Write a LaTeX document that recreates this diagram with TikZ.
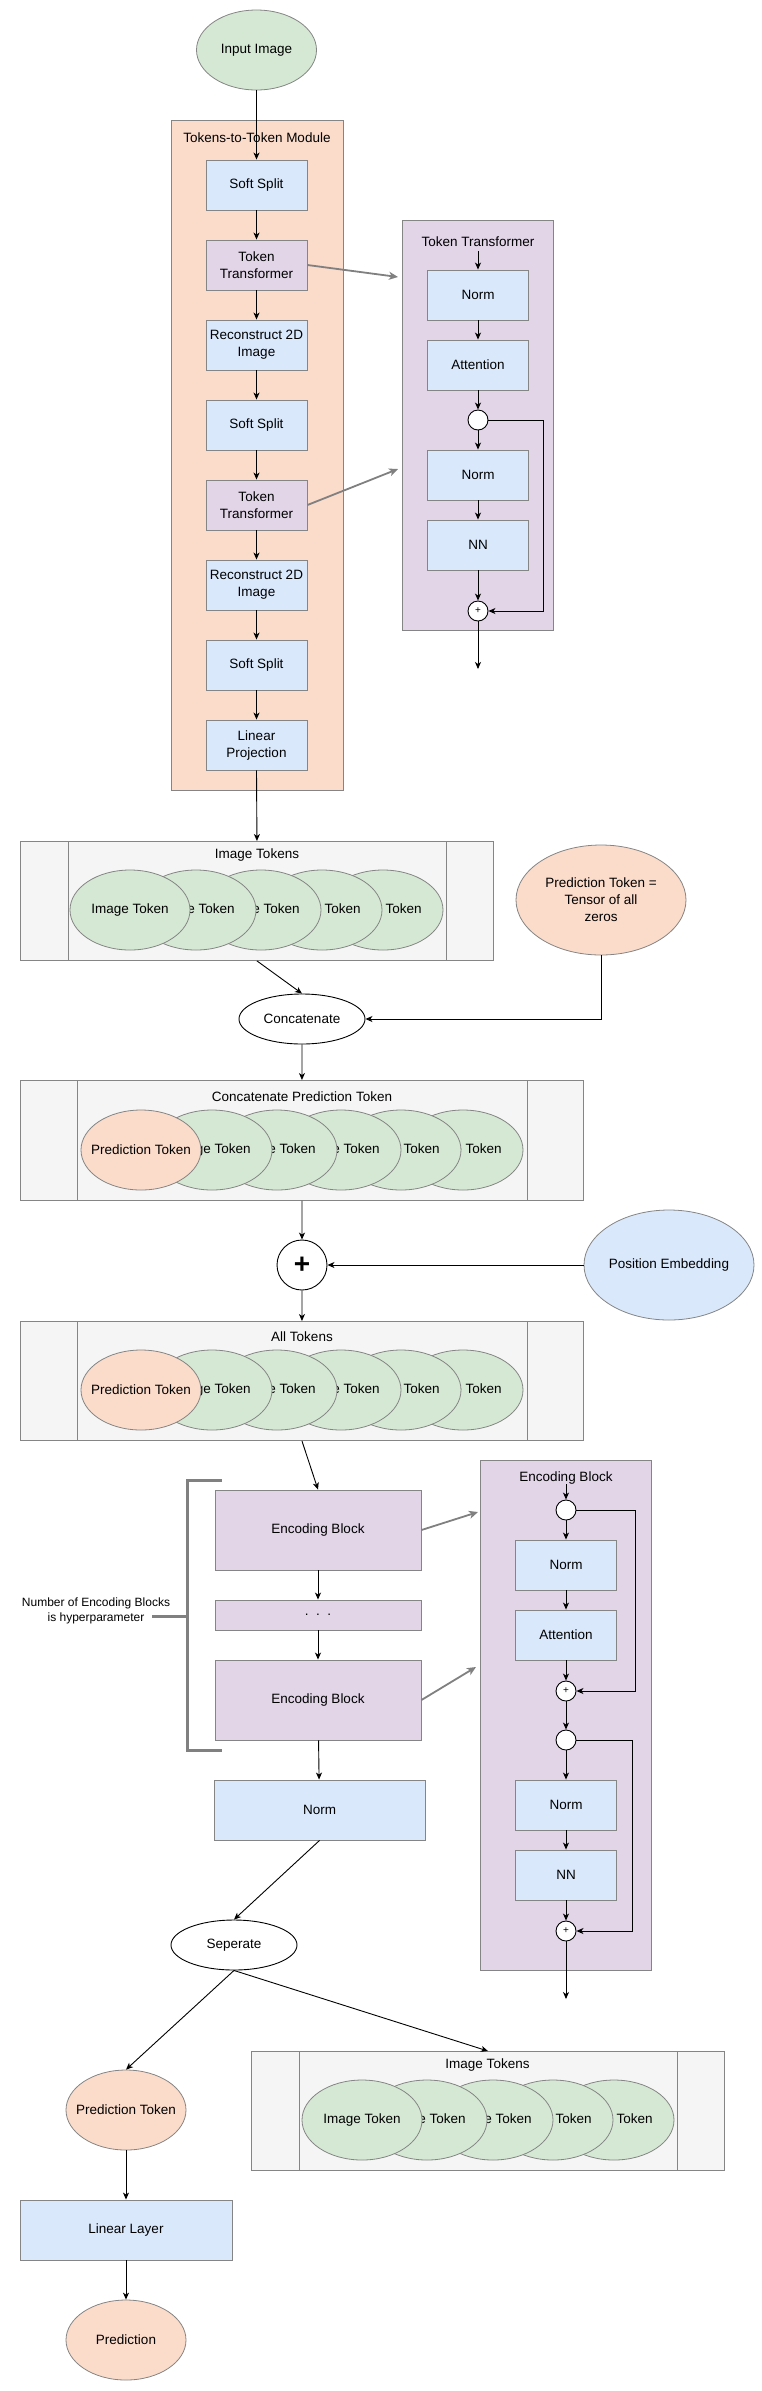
\documentclass[tikz,border=0pt]{standalone}
\usepackage{fontspec}
\setmainfont{Liberation Sans}
\usetikzlibrary{shapes.geometric,arrows.meta,calc}
\definecolor{peachF}{HTML}{FBDBCA}
\definecolor{greenF}{HTML}{D5E8D4}
\definecolor{blueF}{HTML}{DAE8FC}
\definecolor{purpF}{HTML}{E1D5E7}
\definecolor{grayF}{HTML}{F5F5F5}
\definecolor{strokeG}{HTML}{858585}
\definecolor{arrowG}{HTML}{808080}
\newcommand\dgfont{\fontsize{13.5}{17}\selectfont}
\newcommand\smfont{\fontsize{12}{15}\selectfont}
\begin{document}
\begin{tikzpicture}[x=1pt,y=-1pt,
  arr/.style={-{Stealth[length=7pt,width=6pt,inset=2pt]}, line width=0.9pt, draw=black},
  garr/.style={-{Stealth[length=9pt,width=8pt,inset=2.5pt]}, line width=1.8pt, draw=arrowG},
  bx/.style={rectangle, draw=strokeG, line width=0.9pt, align=center, inner sep=1pt, font=\dgfont},
  bbox/.style={bx, fill=blueF, minimum width=101pt, minimum height=50pt},
  pbox/.style={bx, fill=purpF, minimum width=101pt, minimum height=50pt},
  tok/.style={ellipse, draw=strokeG, line width=0.8pt, fill=greenF, minimum width=120pt, minimum height=80pt, inner xsep=-20pt, inner ysep=0pt, font=\dgfont},
  ptok/.style={tok, fill=peachF},
  wel/.style={ellipse, draw=black, line width=0.9pt, fill=white, minimum width=126pt, minimum height=50pt, inner sep=0pt, font=\dgfont},
  circ/.style={circle, draw=black, fill=white, line width=0.9pt, minimum size=20pt, inner sep=0pt, font=\fontsize{10}{10}\selectfont},
  cont/.style={rectangle, draw=strokeG, line width=0.9pt, anchor=north west, inner sep=0pt},
  ttl/.style={font=\dgfont, inner sep=0pt},
  brk/.style={draw=arrowG, line width=3pt}
]
\useasboundingbox (0,0) rectangle (761,2391);

% ---------------- Tokens-to-Token module ----------------
\node[tok] (inImg) at (256.5,50) {Input Image};
\node[cont, fill=peachF, minimum width=172pt, minimum height=670pt] (t2t) at (171,120) {};
\node[ttl] (t2tT) at (257,138) {Tokens-to-Token Module};
\node[bbox] (ss1) at (256.5,185) {Soft Split};
\node[pbox] (tt1) at (256.5,265) {Token\\Transformer};
\node[bbox] (rc1) at (256.5,345) {Reconstruct 2D\\Image};
\node[bbox] (ss2) at (256.5,425) {Soft Split};
\node[pbox] (tt2) at (256.5,505) {Token\\Transformer};
\node[bbox] (rc2) at (256.5,585) {Reconstruct 2D\\Image};
\node[bbox] (ss3) at (256.5,665) {Soft Split};
\node[bbox] (lp) at (256.5,745) {Linear\\Projection};
\draw[arr] (inImg.south) -- (ss1.north);
\draw[arr] (ss1) -- (tt1);
\draw[arr] (tt1) -- (rc1);
\draw[arr] (rc1) -- (ss2);
\draw[arr] (ss2) -- (tt2);
\draw[arr] (tt2) -- (rc2);
\draw[arr] (rc2) -- (ss3);
\draw[arr] (ss3) -- (lp);

% ---------------- Token Transformer detail ----------------
\node[cont, fill=purpF, minimum width=151pt, minimum height=410pt] (ttC) at (402,220) {};
\node[ttl] (ttT) at (478,242) {Token Transformer};
\coordinate (ttIn) at (478,251);
\node[bbox] (ttN1) at (478,295) {Norm};
\node[bbox] (ttA) at (478,365) {Attention};
\node[circ] (ttC1) at (478,420) {};
\node[bbox] (ttN2) at (478,475) {Norm};
\node[bbox] (ttNN) at (478,545) {NN};
\node[circ] (ttP) at (478,611) {+};
\coordinate (ttOut) at (478,669);
\draw[arr] (ttIn) -- (ttN1.north);
\draw[arr] (ttN1) -- (ttA);
\draw[arr] (ttA) -- (ttC1);
\draw[arr] (ttC1) -- (ttN2);
\draw[arr] (ttN2) -- (ttNN);
\draw[arr] (ttNN) -- (ttP);
\draw[arr] (ttP) -- (ttOut);
\draw[arr] (ttC1.east) -- ++(55,0) |- (ttP.east);
\coordinate (g1) at (398,277);
\coordinate (g2) at (398,469);
\draw[garr] (tt1.east) -- (g1);
\draw[garr] (tt2.east) -- (g2);

% ---------------- Image tokens ----------------
\node[cont, fill=grayF, minimum width=473pt, minimum height=119pt] (imgA) at (20,841) {};
\draw[strokeG, line width=0.9pt] ([xshift=48pt]imgA.north west) -- ([xshift=48pt]imgA.south west);
\draw[strokeG, line width=0.9pt] ([xshift=-47pt]imgA.north east) -- ([xshift=-47pt]imgA.south east);
\node[ttl] (imgAT) at (257,855) {Image Tokens};
\foreach \x [count=\i] in {383,322,261,196,130} \node[tok] (ia\i) at (\x,910) {Image Token};
\draw[arr] (lp.south) -- (imgA.north);

\node[ptok, inner sep=0pt, minimum width=170pt, minimum height=110pt, align=center] (predT) at (601,900) {Prediction Token =\\Tensor of all\\zeros};
\node[wel] (concat) at (302,1019) {Concatenate};
\draw[arr] (imgA.south) -- (concat.north);
\draw[arr] (predT.south) |- (concat.east);

% ---------------- Concatenate prediction token ----------------
\node[cont, fill=grayF, minimum width=563pt, minimum height=120pt] (catC) at (20,1080) {};
\draw[strokeG, line width=0.9pt] ([xshift=57pt]catC.north west) -- ([xshift=57pt]catC.south west);
\draw[strokeG, line width=0.9pt] ([xshift=-56pt]catC.north east) -- ([xshift=-56pt]catC.south east);
\node[ttl] (catCT) at (302,1097) {Concatenate Prediction Token};
\foreach \x [count=\i] in {463,401,341,277,212} \node[tok] (ca\i) at (\x,1150) {Image Token};
\node[ptok] (ca0) at (141,1150) {Prediction Token};
\draw[arr] (concat.south) -- (catC.north);

% ---------------- Position embedding ----------------
\node[circle, draw=black, fill=white, line width=0.9pt, minimum size=50pt, inner sep=0pt, font=\fontsize{28}{28}\selectfont\bfseries] (plus) at (302,1265) {+};
\node[tok, fill=blueF, minimum width=170pt, minimum height=110pt] (posE) at (669,1265) {Position Embedding};
\draw[arr] (catC.south) -- (plus.north);
\draw[arr] (posE.west) -- (plus.east);

% ---------------- All tokens ----------------
\node[cont, fill=grayF, minimum width=563pt, minimum height=119pt] (allC) at (20,1321) {};
\draw[strokeG, line width=0.9pt] ([xshift=57pt]allC.north west) -- ([xshift=57pt]allC.south west);
\draw[strokeG, line width=0.9pt] ([xshift=-56pt]allC.north east) -- ([xshift=-56pt]allC.south east);
\node[ttl] (allCT) at (302,1337) {All Tokens};
\foreach \x [count=\i] in {463,401,341,277,212} \node[tok] (aa\i) at (\x,1390) {Image Token};
\node[ptok] (aa0) at (141,1390) {Prediction Token};
\draw[arr] (plus.south) -- (allC.north);

% ---------------- Encoding blocks ----------------
\node[bx, fill=purpF, minimum width=206pt, minimum height=80pt] (eb1) at (318,1530) {Encoding Block};
\node[bx, fill=purpF, minimum width=206pt, minimum height=30pt] (dots) at (318,1615) {.\ \ .\ \ .};
\node[bx, fill=purpF, minimum width=206pt, minimum height=80pt] (eb2) at (318,1700) {Encoding Block};
\node[bx, fill=blueF, minimum width=211pt, minimum height=60pt] (norm) at (319.5,1810) {Norm};
\draw[arr] (allC.south) -- (eb1.north);
\draw[arr] (eb1) -- (dots);
\draw[arr] (dots) -- (eb2);
\draw[arr] (eb2) -- (norm);

\draw[brk] (222,1480) -- (187,1480) -- (187,1750) -- (222,1750);
\draw[brk] (152,1616) -- (187,1616);
\node[font=\smfont, align=center, inner sep=0pt] (nblk) at (96,1611) {Number of Encoding Blocks\\is hyperparameter};

% ---------------- Encoding Block detail ----------------
\node[cont, fill=purpF, minimum width=171pt, minimum height=510pt] (ebC) at (480,1460) {};
\node[ttl] (ebT) at (566,1478) {Encoding Block};
\coordinate (ebIn) at (566,1484);
\node[circ] (ebC1) at (566,1510) {};
\node[bbox] (ebN1) at (566,1565) {Norm};
\node[bbox] (ebA) at (566,1635) {Attention};
\node[circ] (ebP1) at (566,1691) {+};
\node[circ] (ebC2) at (566,1740) {};
\node[bbox] (ebN2) at (566,1805) {Norm};
\node[bbox] (ebNN) at (566,1875) {NN};
\node[circ] (ebP2) at (566,1931) {+};
\coordinate (ebOut) at (566,1999);
\draw[arr] (ebIn) -- (ebC1.north);
\draw[arr] (ebC1) -- (ebN1);
\draw[arr] (ebN1) -- (ebA);
\draw[arr] (ebA) -- (ebP1);
\draw[arr] (ebP1) -- (ebC2);
\draw[arr] (ebC2) -- (ebN2);
\draw[arr] (ebN2) -- (ebNN);
\draw[arr] (ebNN) -- (ebP2);
\draw[arr] (ebP2) -- (ebOut);
\draw[arr] (ebC1.east) -- ++(59,0) |- (ebP1.east);
\draw[arr] (ebC2.east) -- ++(56,0) |- (ebP2.east);
\coordinate (g3) at (478,1512);
\coordinate (g4) at (476,1667);
\draw[garr] (eb1.east) -- (g3);
\draw[garr] (eb2.east) -- (g4);

% ---------------- Output ----------------
\node[wel] (sep) at (234,1945) {Seperate};
\draw[arr] (norm.south) -- (sep.north);
\node[ptok] (predO) at (126,2110) {Prediction Token};
\node[cont, fill=grayF, minimum width=473pt, minimum height=119pt] (imgB) at (251,2051) {};
\draw[strokeG, line width=0.9pt] ([xshift=48pt]imgB.north west) -- ([xshift=48pt]imgB.south west);
\draw[strokeG, line width=0.9pt] ([xshift=-47pt]imgB.north east) -- ([xshift=-47pt]imgB.south east);
\node[ttl] (imgBT) at (487.5,2065) {Image Tokens};
\foreach \x [count=\i] in {614,553,493,427,362} \node[tok] (ib\i) at (\x,2120) {Image Token};
\draw[arr] (sep.south) -- (predO.north);
\draw[arr] (sep.south) -- (imgB.north);
\node[bx, fill=blueF, minimum width=212pt, minimum height=60pt] (lin) at (126,2230) {Linear Layer};
\node[ptok] (pred) at (126,2340) {Prediction};
\draw[arr] (predO) -- (lin);
\draw[arr] (lin) -- (pred);
\end{tikzpicture}
\end{document}
